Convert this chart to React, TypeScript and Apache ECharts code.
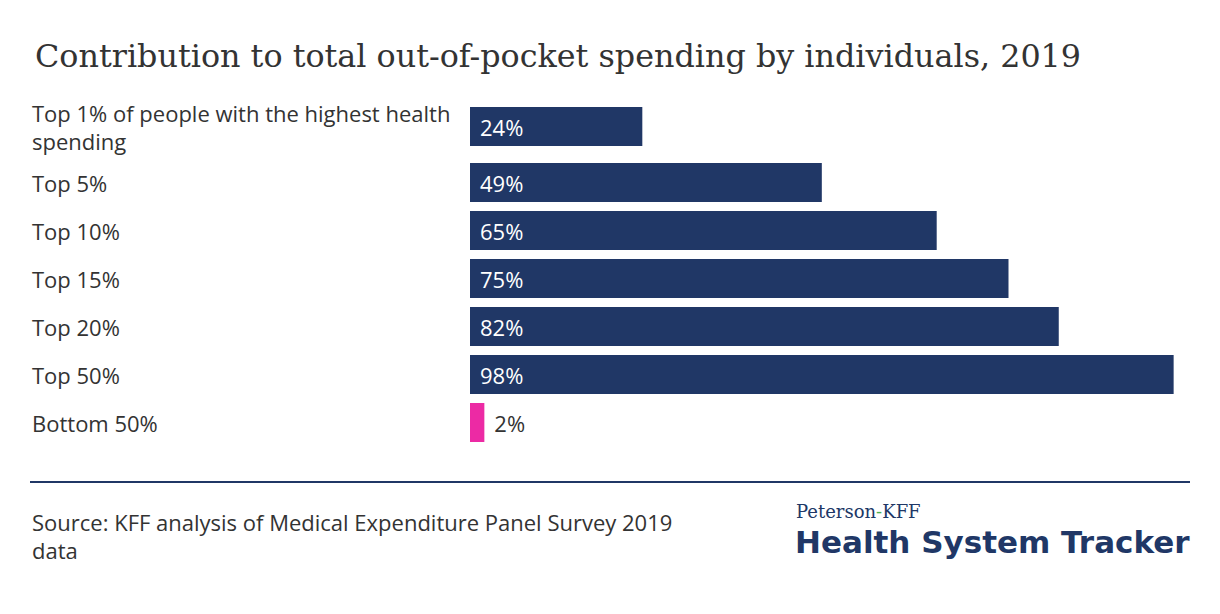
import React, { useEffect, useRef } from "react";
import * as echarts from "echarts";

const categories = [
  "Top 1% of people with the highest health spending",
  "Top 5%",
  "Top 10%",
  "Top 15%",
  "Top 20%",
  "Top 50%",
  "Bottom 50%",
];
const values = [24, 49, 65, 75, 82, 98, 2];
const highlight = [false, false, false, false, false, false, true];

const NAVY = "#203766";
const PINK = "#ec2aa4";
const SANS = "Open Sans";

export default function App() {
  const ref = useRef<HTMLDivElement>(null);
  useEffect(() => {
    document.body.style.margin = "0";
    const chart = echarts.init(ref.current!, null, { renderer: "svg" });
    const toData = (idx: number[]) =>
      idx.map((i) => ({
        value: values[i],
        itemStyle: { color: highlight[i] ? PINK : NAVY },
        label: highlight[i]
          ? { position: "right", distance: 10, color: "#333" }
          : { position: "insideLeft", distance: 10, color: "#fff" },
      }));
    const firstIdx = [0];
    const restIdx = categories.map((_, i) => i).slice(1);
    const xAxisBase = { type: "value", min: 0, max: 100, show: false };
    const yAxisBase = {
      type: "category",
      inverse: true,
      axisLine: { show: false },
      axisTick: { show: false },
      axisLabel: {
        align: "left",
        margin: 438,
        width: 432,
        overflow: "break",
        fontFamily: SANS,
        fontSize: 22,
        lineHeight: 28,
        color: "#333",
      },
    };
    const seriesBase = {
      type: "bar",
      barWidth: 39,
      label: {
        show: true,
        formatter: "{c}%",
        fontFamily: SANS,
        fontSize: 22,
      },
    };
    chart.setOption({
      animation: false,
      title: {
        text: "Contribution to total out-of-pocket spending by individuals, 2019",
        left: 30,
        top: 34,
        textStyle: {
          fontFamily: "DejaVu Serif",
          fontSize: 31.8,
          fontWeight: "normal",
          color: "#333",
        },
      },
      grid: [
        { left: 470, right: 32, top: 102, height: 49 },
        { left: 470, right: 32, top: 158.5, height: 288 },
      ],
      xAxis: [
        { ...xAxisBase, gridIndex: 0 },
        { ...xAxisBase, gridIndex: 1 },
      ],
      yAxis: [
        { ...yAxisBase, gridIndex: 0, data: firstIdx.map((i) => categories[i]) },
        { ...yAxisBase, gridIndex: 1, data: restIdx.map((i) => categories[i]) },
      ],
      series: [
        { ...seriesBase, xAxisIndex: 0, yAxisIndex: 0, data: toData(firstIdx) },
        { ...seriesBase, xAxisIndex: 1, yAxisIndex: 1, data: toData(restIdx) },
      ],
      graphic: [
        {
          type: "line",
          shape: { x1: 30, y1: 482, x2: 1190, y2: 482 },
          style: { stroke: NAVY, lineWidth: 2 },
        },
        {
          type: "text",
          x: 32,
          y: 508,
          style: {
            text: "Source: KFF analysis of Medical Expenditure Panel Survey 2019\ndata",
            font: "22px 'Open Sans'",
            lineHeight: 28,
            fill: "#333",
          },
        },
        {
          type: "text",
          x: 796,
          y: 502,
          style: {
            text: "{a|Peterson}{g|-}{a|KFF}",
            rich: {
              a: { fontFamily: "DejaVu Serif", fontSize: 18, fill: NAVY, color: NAVY },
              g: { fontFamily: "DejaVu Serif", fontSize: 18, fill: "#4caf50", color: "#4caf50" },
            },
          },
        },
        {
          type: "text",
          x: 795,
          y: 526,
          style: {
            text: "Health System Tracker",
            font: "bold 31px 'DejaVu Sans'",
            fill: NAVY,
          },
        },
      ],
    });
    return () => chart.dispose();
  }, []);
  return <div ref={ref} style={{ width: 1220, height: 614 }} />;
}
